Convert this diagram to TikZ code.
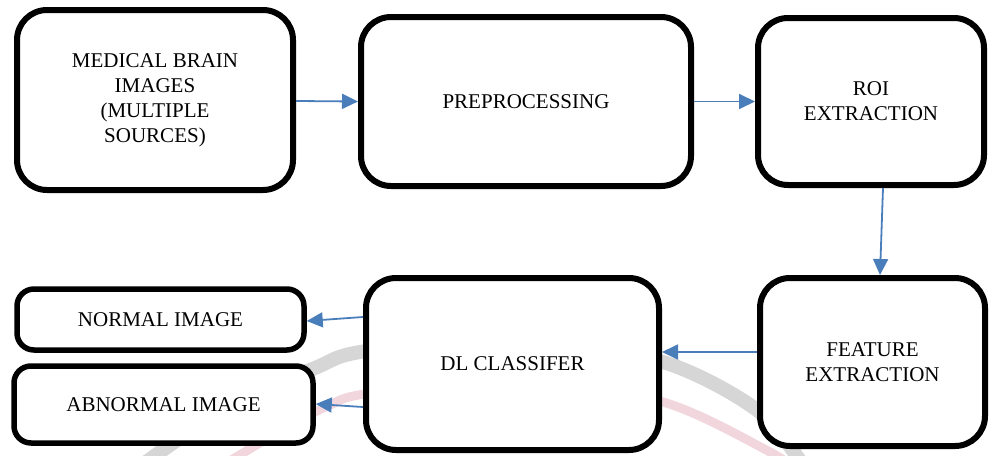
\documentclass[tikz,border=0pt]{standalone}
\usepackage{fontspec}
\setmainfont{Liberation Serif}
\usetikzlibrary{arrows.meta,calc}
\definecolor{flowblue}{RGB}{74,126,187}
\definecolor{wmgrey}{RGB}{214,214,214}
\definecolor{wmpink}{RGB}{242,214,222}
\tikzset{
  bigbox/.style={draw=black, line width=6pt, fill=white, rounded corners=30pt,
    align=center, inner sep=0pt, font=\fontsize{21}{25}\selectfont},
  smallbox/.style={bigbox, line width=5.5pt, rounded corners=17pt},
  flow/.style={draw=flowblue, line width=1.8pt,
    -{Triangle[length=16pt,width=15pt]}},
}
\begin{document}
\begin{tikzpicture}[x=1pt,y=-1pt]
\useasboundingbox (0,0) rectangle (990,455);
% faint background watermark bands
\draw[wmgrey, line width=14pt] plot[smooth] coordinates
  {(135,470) (230,405) (315,368) (360,352) (510,334) (663,362) (757,410) (805,468)};
\draw[wmpink, line width=9pt] plot[smooth] coordinates
  {(215,470) (285,428) (330,405) (365,394) (510,378) (663,402) (770,452) (795,470)};

% processing stages
\node[bigbox, minimum width=276pt, minimum height=180pt] (src) at (155,100)
  {MEDICAL BRAIN\\IMAGES\\(MULTIPLE\\SOURCES)};
\node[bigbox, minimum width=330pt, minimum height=169pt] (pre) at (526,101.5)
  {PREPROCESSING};
\node[bigbox, minimum width=226pt, minimum height=167pt] (roi) at (871,101.5)
  {ROI\\EXTRACTION};
\node[bigbox, minimum width=225pt, minimum height=168pt] (feat) at (872.5,362)
  {FEATURE\\EXTRACTION};
\node[bigbox, minimum width=293pt, minimum height=172pt] (dl) at (512.5,364)
  {DL CLASSIFER};
\node[smallbox, minimum width=287pt, minimum height=61pt] (norm) at (160.5,319.5)
  {NORMAL IMAGE};
\node[smallbox, minimum width=299pt, minimum height=77pt] (abn) at (163.5,404.5)
  {ABNORMAL IMAGE};

% connectors
\draw[flow] ($(src.east)+(0,1)$) -- (pre.west);
\draw[flow] (pre.east) -- (roi.west);
\draw[flow] ($(roi.south)+(12,0)$) -- ($(feat.north)+(7.5,0)$);
\draw[flow] ($(feat.west)+(0,-10)$) -- ($(dl.east)+(0,-12)$);
\draw[flow] ($(dl.west)+(0,-47)$) -- ($(norm.east)+(0,1.5)$);
\draw[flow] ($(dl.west)+(0,43)$) -- ($(abn.east)+(0,-0.5)$);
\end{tikzpicture}
\end{document}
